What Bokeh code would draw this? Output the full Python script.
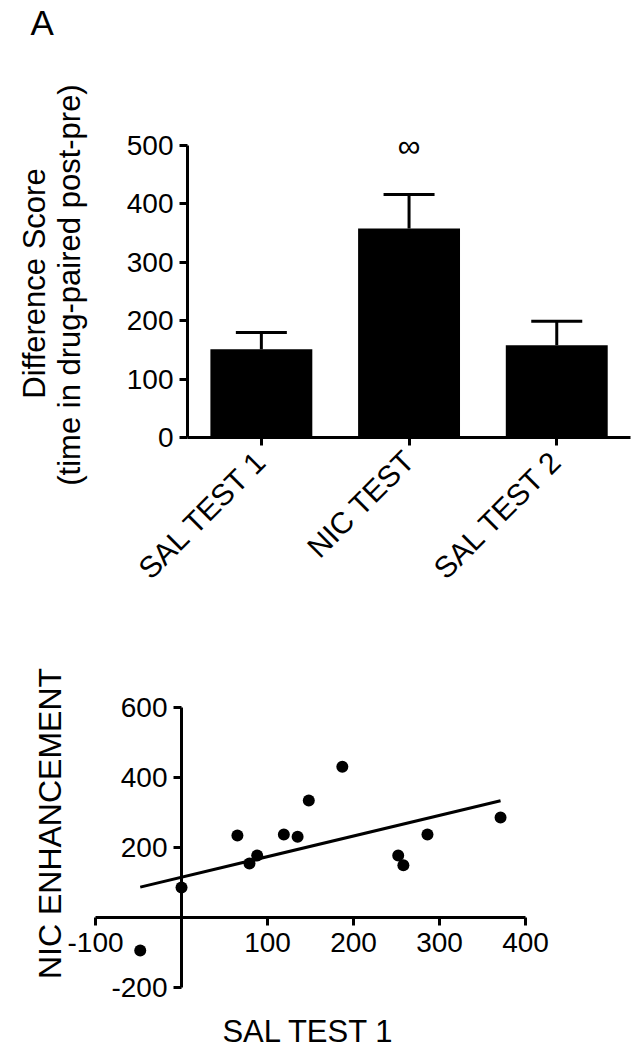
import numpy as np
from math import pi
from bokeh.plotting import figure
from bokeh.models import Range1d, Whisker, TeeHead, ColumnDataSource, FixedTicker
from bokeh.core.properties import value
from bokeh.layouts import column
from bokeh.embed import file_html
from bokeh.resources import INLINE

# ---- data: top bar chart ----
categories = ["SAL TEST 1", "NIC TEST", "SAL TEST 2"]
means = [151, 358, 158]
sem = [29, 58, 41]
y_ticks_top = [0, 100, 200, 300, 400, 500]

# ---- data: bottom scatter ----
sal_test1 = [-48, 0, 65, 79, 88, 119, 135, 148, 187, 252, 258, 286, 371]
nic_enh = [-94, 86, 234, 154, 177, 237, 231, 334, 431, 177, 149, 237, 286]
x_ticks_bot = [-100, 0, 100, 200, 300, 400]
y_ticks_bot = [-200, 0, 200, 400, 600]

FONT = "Liberation Sans"


def style_axis(ax, size):
    ax.axis_line_width = 3
    ax.axis_line_color = "black"
    ax.major_tick_line_width = 3
    ax.major_tick_line_color = "black"
    ax.major_tick_out = 8
    ax.major_tick_in = 0
    ax.minor_tick_line_color = None
    ax.major_label_text_font = FONT
    ax.major_label_text_font_size = size
    ax.major_label_text_color = "black"


# ================= top figure: bar chart =================
p1 = figure(x_range=Range1d(-1.2661, 3.0196), y_range=Range1d(-279.1, 748.3),
            width=633, height=600, output_backend="svg", toolbar_location=None,
            min_border_left=0, min_border_right=0, min_border_top=0, min_border_bottom=0)
p1.outline_line_color = None
p1.grid.visible = False

xpos = [i + 0.5 for i in range(len(categories))]
src = ColumnDataSource(dict(x=xpos, mean=means,
                            upper=[m + s for m, s in zip(means, sem)]))
p1.vbar(x="x", top="mean", bottom=0, width=0.69, source=src,
        fill_color="black", line_color=None)
p1.add_layout(Whisker(base="x", upper="upper", lower="mean", source=src,
                      upper_head=TeeHead(size=51, line_width=3, line_color="black"),
                      lower_head=None, line_width=3, line_color="black"))

p1.xaxis.fixed_location = 0
p1.yaxis.fixed_location = 0
p1.xaxis.bounds = (0, len(categories))
p1.yaxis.bounds = (0, 500)
p1.xaxis.ticker = FixedTicker(ticks=xpos)
p1.xaxis.major_label_overrides = {x: c for x, c in zip(xpos, categories)}
p1.yaxis.ticker = FixedTicker(ticks=y_ticks_top)
style_axis(p1.xaxis[0], "30px")
style_axis(p1.yaxis[0], "28px")
p1.yaxis.major_label_standoff = 6
p1.xaxis.major_label_orientation = pi / 4
p1.xaxis.major_label_standoff = 10

p1.text(x=[1.5], y=[500], text=["∞"], text_align="center", text_baseline="middle",
        text_font=value(FONT), text_font_size="32px", text_color="black")
p1.text(x=[-1.063], y=[710.6], text=["A"], text_align="left", text_baseline="middle",
        text_font=value(FONT), text_font_size="35px", text_color="black")
p1.text(x=[-1.036], y=[263.7], text=["Difference Score"], angle=pi / 2,
        text_align="center", text_baseline="middle",
        text_font=value(FONT), text_font_size="31px", text_color="black")
p1.text(x=[-0.799], y=[261.1], text=["(time in drug-paired post-pre)"], angle=pi / 2,
        text_align="center", text_baseline="middle",
        text_font=value(FONT), text_font_size="31px", text_color="black")

# ================= bottom figure: scatter =================
p2 = figure(x_range=Range1d(-210.5, 525.6), y_range=Range1d(-380.0, 905.7),
            width=633, height=450, output_backend="svg", toolbar_location=None,
            min_border_left=0, min_border_right=0, min_border_top=0, min_border_bottom=0)
p2.outline_line_color = None
p2.grid.visible = False

slope, intercept = np.polyfit(sal_test1, nic_enh, 1)
xl = np.array([min(sal_test1), max(sal_test1)])
p2.line(xl, intercept + slope * xl, line_width=3, line_color="black")
p2.scatter(sal_test1, nic_enh, size=12, fill_color="black", line_color=None)

p2.xaxis.fixed_location = 0
p2.yaxis.fixed_location = 0
p2.xaxis.bounds = (min(x_ticks_bot), max(x_ticks_bot))
p2.yaxis.bounds = (min(y_ticks_bot), max(y_ticks_bot))
p2.xaxis.ticker = FixedTicker(ticks=x_ticks_bot)
p2.yaxis.ticker = FixedTicker(ticks=y_ticks_bot)
p2.xaxis.major_label_overrides = {t: ("" if t == 0 else str(t)) for t in x_ticks_bot}
p2.yaxis.major_label_overrides = {t: ("" if t == 0 else str(t)) for t in y_ticks_bot}
style_axis(p2.xaxis[0], "28px")
style_axis(p2.yaxis[0], "28px")
p2.xaxis.major_label_standoff = 8
p2.yaxis.major_label_standoff = 6

p2.text(x=[-153.5], y=[268.6], text=["NIC ENHANCEMENT"], angle=pi / 2,
        text_align="center", text_baseline="middle",
        text_font=value(FONT), text_font_size="32px", text_color="black")
p2.text(x=[147.7], y=[-325.7], text=["SAL TEST 1"],
        text_align="center", text_baseline="middle",
        text_font=value(FONT), text_font_size="31px", text_color="black")

layout = column(p1, p2)
open("out.html", "w").write(file_html(layout, INLINE))
